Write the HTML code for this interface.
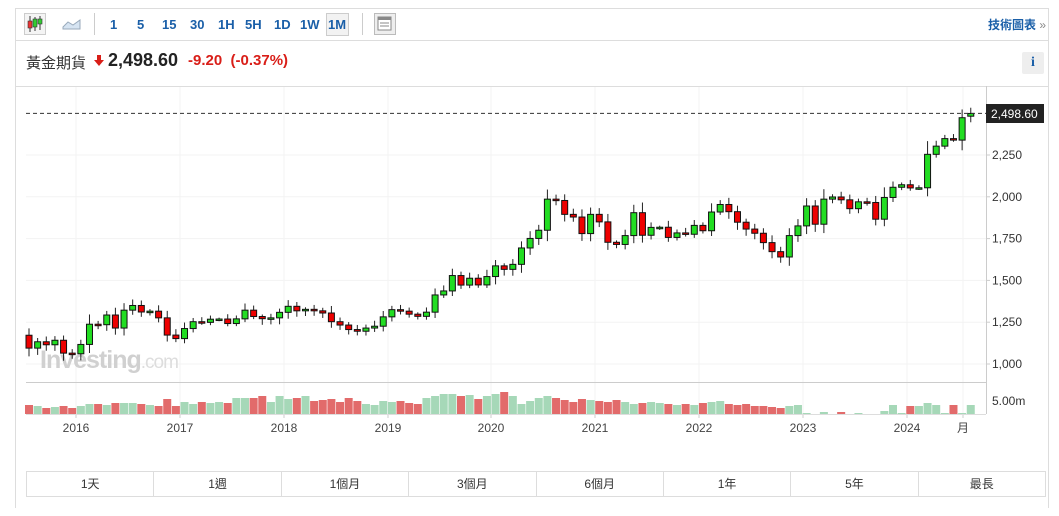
<!DOCTYPE html>
<html><head><meta charset="utf-8">
<style>
body{margin:0;width:1059px;height:516px;background:#fff;font-family:"Liberation Sans","Noto Sans CJK TC",sans-serif;position:relative;overflow:hidden}
.a{position:absolute}
.tb{color:#1a5fa8;font-weight:bold;font-size:13px;top:17px}
</style></head><body>
<div class="a" style="left:15px;top:8px;width:1034px;height:500px;border:1px solid #ddd;border-bottom:none;box-sizing:border-box"></div>
<div class="a" style="left:15px;top:40px;width:1034px;height:1px;background:#ddd"></div>
<!-- toolbar -->
<div class="a" style="left:24px;top:13px;width:20px;height:20px;border:1px solid #ccc;background:#f4f4f4"></div>
<svg class="a" style="left:24px;top:13px" width="22" height="22"><line x1="6" y1="3" x2="6" y2="19" stroke="#333"/><rect x="4" y="8" width="4" height="7" fill="#e33" stroke="#333" stroke-width=".6"/><line x1="11" y1="4" x2="11" y2="18" stroke="#333"/><rect x="9" y="6" width="4" height="8" fill="#3c3" stroke="#333" stroke-width=".6"/><line x1="16" y1="3" x2="16" y2="17" stroke="#333"/><rect x="14" y="6" width="4" height="5" fill="#3c3" stroke="#333" stroke-width=".6"/></svg>
<svg class="a" style="left:62px;top:16px" width="20" height="14"><path d="M1 11 L6 6 L11 9 L18 4 L18 13 L1 13Z" fill="#d6e4f2" stroke="#9ab"/></svg>
<div class="a" style="left:94px;top:13px;width:1px;height:22px;background:#ccc"></div>
<div class="a tb" style="left:110px">1</div><div class="a tb" style="left:137px">5</div><div class="a tb" style="left:162px">15</div><div class="a tb" style="left:190px">30</div><div class="a tb" style="left:218px">1H</div><div class="a tb" style="left:245px">5H</div><div class="a tb" style="left:274px">1D</div><div class="a tb" style="left:300px">1W</div>
<div class="a" style="left:326px;top:13px;width:21px;height:21px;border:1px solid #ccc;background:#f2f2f2"></div><div class="a tb" style="left:328px">1M</div>
<div class="a" style="left:362px;top:13px;width:1px;height:22px;background:#ccc"></div>
<div class="a" style="left:374px;top:13px;width:20px;height:20px;border:1px solid #bbb;background:#eee"></div>
<svg class="a" style="left:377px;top:16px" width="16" height="16"><rect x="1" y="1" width="13" height="13" fill="#fff" stroke="#888"/><rect x="1" y="1" width="13" height="3" fill="#888"/><line x1="3" y1="7" x2="12" y2="7" stroke="#888"/><line x1="3" y1="10" x2="12" y2="10" stroke="#888"/></svg>
<div class="a" style="left:988px;top:16px;color:#1a5fa8;font-size:12px;font-weight:bold">技術圖表 <span style="color:#888;font-weight:normal">»</span></div>
<!-- header -->
<div class="a" style="left:26px;top:52px;font-size:15px;color:#333">黃金期貨</div>
<svg class="a" style="left:94px;top:55px" width="10" height="12"><path d="M3 0H7V5H10L5 11L0 5H3Z" fill="#d91e18"/></svg>
<div class="a" style="left:108px;top:50px;font-size:18px;font-weight:bold;color:#222">2,498.60</div>
<div class="a" style="left:188px;top:52px;font-size:15px;color:#d91e18;font-weight:bold">-9.20 &nbsp;(-0.37%)</div>
<div class="a" style="left:1022px;top:52px;width:22px;height:22px;background:#eee;border-radius:2px;text-align:center;font:bold 14px 'Liberation Serif',serif;color:#1a5fa8;line-height:22px">i</div>
<svg id="c" class="a" style="left:0;top:0" width="1059" height="516"></svg>
<!-- bottom buttons -->
<div class="a" style="left:26px;top:471px;width:1020px;height:26px;border:1px solid #ddd;box-sizing:border-box;display:flex;font-size:12px;color:#333">
<div style="flex:1;text-align:center;line-height:24px;border-right:1px solid #ddd">1天</div><div style="flex:1;text-align:center;line-height:24px;border-right:1px solid #ddd">1週</div><div style="flex:1;text-align:center;line-height:24px;border-right:1px solid #ddd">1個月</div><div style="flex:1;text-align:center;line-height:24px;border-right:1px solid #ddd">3個月</div><div style="flex:1;text-align:center;line-height:24px;border-right:1px solid #ddd">6個月</div><div style="flex:1;text-align:center;line-height:24px;border-right:1px solid #ddd">1年</div><div style="flex:1;text-align:center;line-height:24px;border-right:1px solid #ddd">5年</div><div style="flex:1;text-align:center;line-height:24px">最長</div></div>
<script>
var C=[1172,1095,1133,1115,1142,1065,1061,1117,1238,1235,1293,1215,1322,1350,1311,1316,1276,1173,1152,1212,1253,1249,1268,1269,1242,1270,1322,1284,1271,1276,1309,1345,1318,1327,1318,1305,1253,1233,1206,1196,1215,1226,1282,1325,1316,1298,1285,1310,1413,1437,1529,1472,1513,1473,1523,1587,1566,1596,1694,1751,1800,1986,1978,1895,1879,1780,1895,1850,1728,1715,1768,1905,1770,1817,1818,1757,1784,1776,1829,1797,1909,1954,1911,1848,1807,1782,1726,1672,1640,1768,1826,1945,1836,1986,1999,1982,1929,1970,1966,1866,1996,2057,2072,2053,2054,2254,2303,2348,2339,2473,2498.6];
var V=[9,8,6,7,8,6,8,10,10,9,11,11,11,10,9,8,15,8,12,10,12,11,12,11,16,16,16,18,12,18,15,16,18,13,14,15,12,16,13,10,9,13,12,13,11,10,16,18,20,20,18,19,15,18,20,22,18,10,13,16,18,16,14,12,15,14,13,12,14,12,10,11,12,11,10,9,10,9,11,12,13,10,9,10,8,8,7,6,8,9,1,0,2,0,2,0,1,0,0,3,9,1,8,8,11,9,1,9,1,9];
var s='';
function Y(v){return 364-(v-1000)*0.1672}
var yt=[1000,1250,1500,1750,2000,2250];
yt.forEach(function(v){var y=Y(v);s+='<line x1="26" x2="986" y1="'+y+'" y2="'+y+'" stroke="#f3f3f3"/><line x1="986" x2="990" y1="'+y+'" y2="'+y+'" stroke="#ccc"/><text x="992" y="'+(y+4)+'" font-size="12" fill="#333">'+v.toLocaleString('en-US')+'</text>'});
var xt=[[76,'2016'],[180,'2017'],[284,'2018'],[388,'2019'],[491,'2020'],[595,'2021'],[699,'2022'],[803,'2023'],[907,'2024'],[963,'月']];
xt.forEach(function(t){s+='<line x1="'+t[0]+'" x2="'+t[0]+'" y1="86" y2="418" stroke="#f3f3f3"/><line x1="'+t[0]+'" x2="'+t[0]+'" y1="414" y2="418" stroke="#ccc"/><text x="'+t[0]+'" y="432" font-size="12" fill="#444" text-anchor="middle">'+t[1]+'</text>'});
s+='<line x1="15" x2="1049" y1="86.5" y2="86.5" stroke="#ddd"/><line x1="986.5" x2="986.5" y1="86" y2="414" stroke="#ccc"/><line x1="26" x2="986" y1="382.5" y2="382.5" stroke="#ccc"/><line x1="26" x2="986" y1="414.5" y2="414.5" stroke="#ddd"/>';
s+='<text x="40" y="368" font-size="25" font-weight="bold" fill="#d0d0d0" letter-spacing="-1">Investing<tspan font-weight="normal" font-size="19" fill="#ddd">.com</tspan></text>';
s+='<text x="992" y="405" font-size="12" fill="#333">5.00m</text>';
for(var i=1;i<C.length;i++){var o=C[i-1],c=C[i];if(i==C.length-1)o=2482;var x=29+(i-1)*8.64;var up=c>=o;var d=Math.abs(c-o);
var h=Math.max(o,c)+8+((i*37)%23)+d*0.25,l=Math.min(o,c)-8-((i*53)%27)-d*0.2;
s+='<line x1="'+x+'" x2="'+x+'" y1="'+Y(h)+'" y2="'+Y(l)+'" stroke="#222"/>';
var yb=Y(Math.max(o,c)),hb=Math.max(1.5,Y(Math.min(o,c))-yb);
s+='<rect x="'+(x-3)+'" y="'+yb+'" width="6" height="'+hb+'" fill="'+(up?'#22dd22':'#ee0000')+'" stroke="#111" stroke-width="1"/>';
var vh=V[i-1]||0;if(vh>0)s+='<rect x="'+(x-4)+'" y="'+(414-vh)+'" width="8" height="'+vh+'" fill="'+(up?'#a6d8b8':'#e26b6b')+'"/>';}
s+='<line x1="26" x2="986" y1="'+Y(2498.6)+'" y2="'+Y(2498.6)+'" stroke="#333" stroke-dasharray="4,3"/>';
s+='<rect x="986" y="104" width="58" height="19" fill="#222"/><text x="991" y="118" font-size="12" fill="#fff">2,498.60</text>';
document.getElementById('c').innerHTML=s;
</script>
</body></html>
